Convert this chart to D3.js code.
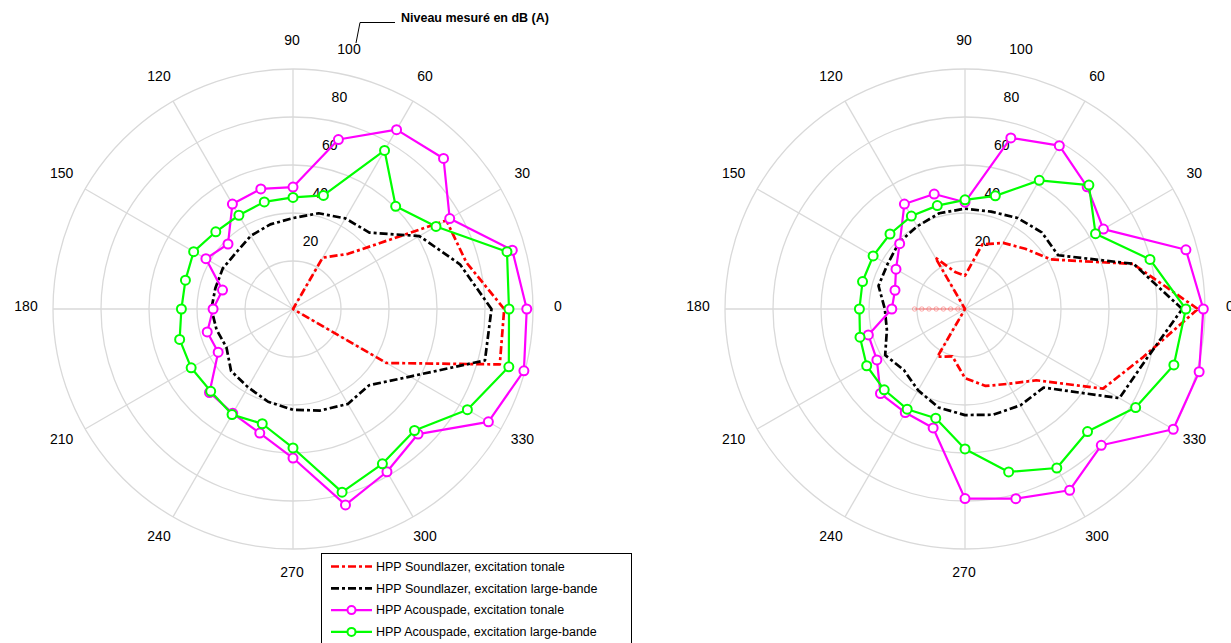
<!DOCTYPE html>
<html>
<head>
<meta charset="utf-8">
<script src="https://cdn.jsdelivr.net/npm/d3@7"></script>
<style>
  html, body { margin: 0; padding: 0; background: #fff; }
  svg { display: block; font-family: "Liberation Sans", Arial, sans-serif; }
</style>
</head>
<body>
<svg id="chart" width="1231" height="643"></svg>
<script>
// Measurement directions (degrees, counter-clockwise from 0 on the right)
const angles = [0, 15, 30, 45, 60, 75, 90, 105, 120, 135, 150, 165,
                180, 195, 210, 225, 240, 255, 270, 285, 300, 315, 330, 345];

// Radial ticks (dB(A)) and angular tick labels
const radialTicks = [20, 40, 60, 80, 100];
const angleTicks = [0, 30, 60, 90, 120, 150, 180, 210, 240, 270, 300, 330];

// Left diagram
const leftSoundlazerTonal = [88, 74.8, 73.8, 32.5, 24.7, 0, 0, 0, 0, 0, 0, 0,
                             0, 0, 0, 0, 0, 0, 0, 0, 0, 0, 45, 89.2];
const leftSoundlazerWide  = [82.7, 72, 60.8, 45, 43.6, 41.3, 37.9, 36.5, 35.2, 33.4, 33.8, 33.5,
                             34, 33, 32, 36.5, 37.6, 40, 42, 43.8, 45.7, 44.9, 56.3, 82.8];
const leftAcouspadeTonal  = [97.4, 94.6, 75.4, 88.7, 86.3, 73.1, 50.8, 51.8, 50.5, 38.3, 41.9, 30.4,
                             33.3, 37.0, 36.0, 49.2, 50.2, 53.5, 62.1, 84.5, 78.3, 73.7, 94.0, 99.6];
const leftAcouspadeWide   = [90, 92.3, 68.8, 60.5, 76.3, 49, 46.5, 46.2, 45.1, 45.5, 47.8, 46.4,
                             46.5, 48.9, 49, 48.5, 50.8, 49.5, 57.9, 79, 74.5, 71.6, 83.9, 93.1];

// Right diagram
const rightSoundlazerTonal = [97, 72.5, 41.3, 35.5, 31.8, 27.9, 13.9, 16, 24.7, 0, 0, 0,
                              0, 0, 0, 0, 23, 20.4, 28.8, 33.2, 36, 42, 66.4, 77];
const rightSoundlazerWide  = [90.5, 72.7, 44.8, 45.2, 43.8, 42, 41.8, 41.3, 39.8, 39, 37.3, 37.3,
                              33.4, 33.7, 38.4, 36, 39.1, 42.5, 44.2, 45.6, 46.3, 46.3, 74.3, 78.6];
const rightAcouspadeTonal  = [99.3, 95.3, 66.6, 72, 78.6, 73.8, 44.5, 49.6, 50.5, 38.5, 33.2, 30.2,
                              30.5, 41.7, 42.4, 49.8, 49.8, 51.3, 79, 81.8, 87.2, 80.3, 100.2, 101];
const rightAcouspadeWide   = [92, 79.8, 62.8, 73, 61.9, 48.8, 45.5, 44.6, 44.7, 44.2, 44.2, 44.2,
                              44, 45.3, 47.3, 47.6, 48.2, 47.1, 58.3, 70.3, 76.5, 72.2, 82.1, 90.1];
// Faint trace along 180 deg on the right diagram
const rightFaintTrace = [3, 6, 9, 12, 15, 18, 21];

const seriesNames = [
  "HPP Soundlazer, excitation tonale",
  "HPP Soundlazer, excitation large-bande",
  "HPP Acouspade, excitation tonale",
  "HPP Acouspade, excitation large-bande"
];
const seriesColors = ["#ff0000", "#000000", "#ff00ff", "#00ff00"];
const seriesDashed = [true, true, false, false];

const titleText = "Niveau mesuré en dB (A)";

const svg = d3.select("#chart");
const R = 240;
const rScale = d3.scaleLinear().domain([0, 100]).range([0, R]);
const toRad = d => (90 - d) * Math.PI / 180;   // d3 radial angle: clockwise from 12 o'clock

function drawPolar(cx, cy, seriesList, faint) {
  const g = svg.append("g").attr("transform", `translate(${cx},${cy})`);

  // grid circles
  g.selectAll("circle.grid").data(radialTicks).join("circle")
    .attr("r", d => rScale(d))
    .attr("fill", "none").attr("stroke", "#d9d9d9").attr("stroke-width", 1.3);
  // spokes
  g.selectAll("line.spoke").data(angleTicks).join("line")
    .attr("x1", 0).attr("y1", 0)
    .attr("x2", d => rScale(100) * Math.sin(toRad(d)))
    .attr("y2", d => -rScale(100) * Math.cos(toRad(d)))
    .attr("stroke", "#d9d9d9").attr("stroke-width", 1.3);

  // angle labels
  g.selectAll("text.ang").data(angleTicks).join("text")
    .attr("x", d => 266 * Math.sin(toRad(d)) - 1)
    .attr("y", d => -266 * Math.cos(toRad(d)) - 3)
    .attr("dy", "0.35em")
    .attr("text-anchor", "middle")
    .attr("font-size", 14).attr("fill", "#000")
    .text(d => d);

  // radial labels, staggered just right of the vertical axis
  g.selectAll("text.rad").data(radialTicks).join("text")
    .attr("x", d => 0.2 * rScale(d) + 8)
    .attr("y", d => -(rScale(d) + 20))
    .attr("dy", "0.35em")
    .attr("text-anchor", "middle")
    .attr("font-size", 14).attr("fill", "#000")
    .text(d => d);

  if (faint) {
    const fr = d3.lineRadial().angle(toRad(180)).radius(d => rScale(d));
    g.append("path").attr("d", fr([0].concat(faint)))
      .attr("fill", "none").attr("stroke", "rgba(255,80,80,0.45)").attr("stroke-width", 1.5);
    g.selectAll("circle.faint").data(faint).join("circle")
      .attr("cx", d => rScale(d) * Math.sin(toRad(180)))
      .attr("cy", d => -rScale(d) * Math.cos(toRad(180)))
      .attr("r", 2.2).attr("fill", "none")
      .attr("stroke", "rgba(255,80,80,0.5)").attr("stroke-width", 0.9);
  }

  const line = d3.lineRadial()
    .angle((d, i) => toRad(angles[i]))
    .radius(d => rScale(d))
    .curve(d3.curveLinearClosed);

  seriesList.forEach((vals, si) => {
    g.append("path").attr("d", line(vals))
      .attr("fill", "none")
      .attr("stroke", seriesColors[si])
      .attr("stroke-width", seriesDashed[si] ? 2.7 : 2.2)
      .attr("stroke-dasharray", seriesDashed[si] ? "8,3,3,3" : null)
      .attr("stroke-linejoin", "round");
    if (!seriesDashed[si]) {
      g.selectAll(null).data(vals).join("circle")
        .attr("cx", (d, i) => rScale(d) * Math.sin(toRad(angles[i])))
        .attr("cy", (d, i) => -rScale(d) * Math.cos(toRad(angles[i])))
        .attr("r", 4.5)
        .attr("fill", "#fff")
        .attr("stroke", seriesColors[si])
        .attr("stroke-width", 2);
    }
  });
}

drawPolar(293, 309, [leftSoundlazerTonal, leftSoundlazerWide, leftAcouspadeTonal, leftAcouspadeWide], null);
drawPolar(965, 309, [rightSoundlazerTonal, rightSoundlazerWide, rightAcouspadeTonal, rightAcouspadeWide], rightFaintTrace);

// unit annotation with leader line
svg.append("polyline")
  .attr("points", "356,43 360,22.5 395,22.5")
  .attr("fill", "none").attr("stroke", "#000").attr("stroke-width", 1);
svg.append("text")
  .attr("x", 401).attr("y", 21.5)
  .attr("font-size", 12.5).attr("font-weight", "bold")
  .text(titleText);

// legend
const lg = svg.append("g");
lg.append("rect")
  .attr("x", 321.5).attr("y", 553.5).attr("width", 310).attr("height", 100)
  .attr("fill", "#fff").attr("stroke", "#000").attr("stroke-width", 1);
seriesNames.forEach((name, i) => {
  const y = 566.5 + i * 21.8;
  lg.append("line")
    .attr("x1", 331).attr("x2", 372).attr("y1", y).attr("y2", y)
    .attr("stroke", seriesColors[i])
    .attr("stroke-width", seriesDashed[i] ? 2.7 : 2.2)
    .attr("stroke-dasharray", seriesDashed[i] ? "8,3,3,3" : null);
  if (!seriesDashed[i]) {
    lg.append("circle").attr("cx", 351.5).attr("cy", y).attr("r", 4)
      .attr("fill", "#fff").attr("stroke", seriesColors[i]).attr("stroke-width", 2);
  }
  lg.append("text")
    .attr("x", 376).attr("y", y).attr("dy", "0.35em")
    .attr("font-size", 12.5).attr("fill", "#000")
    .text(name);
});
</script>
</body>
</html>
